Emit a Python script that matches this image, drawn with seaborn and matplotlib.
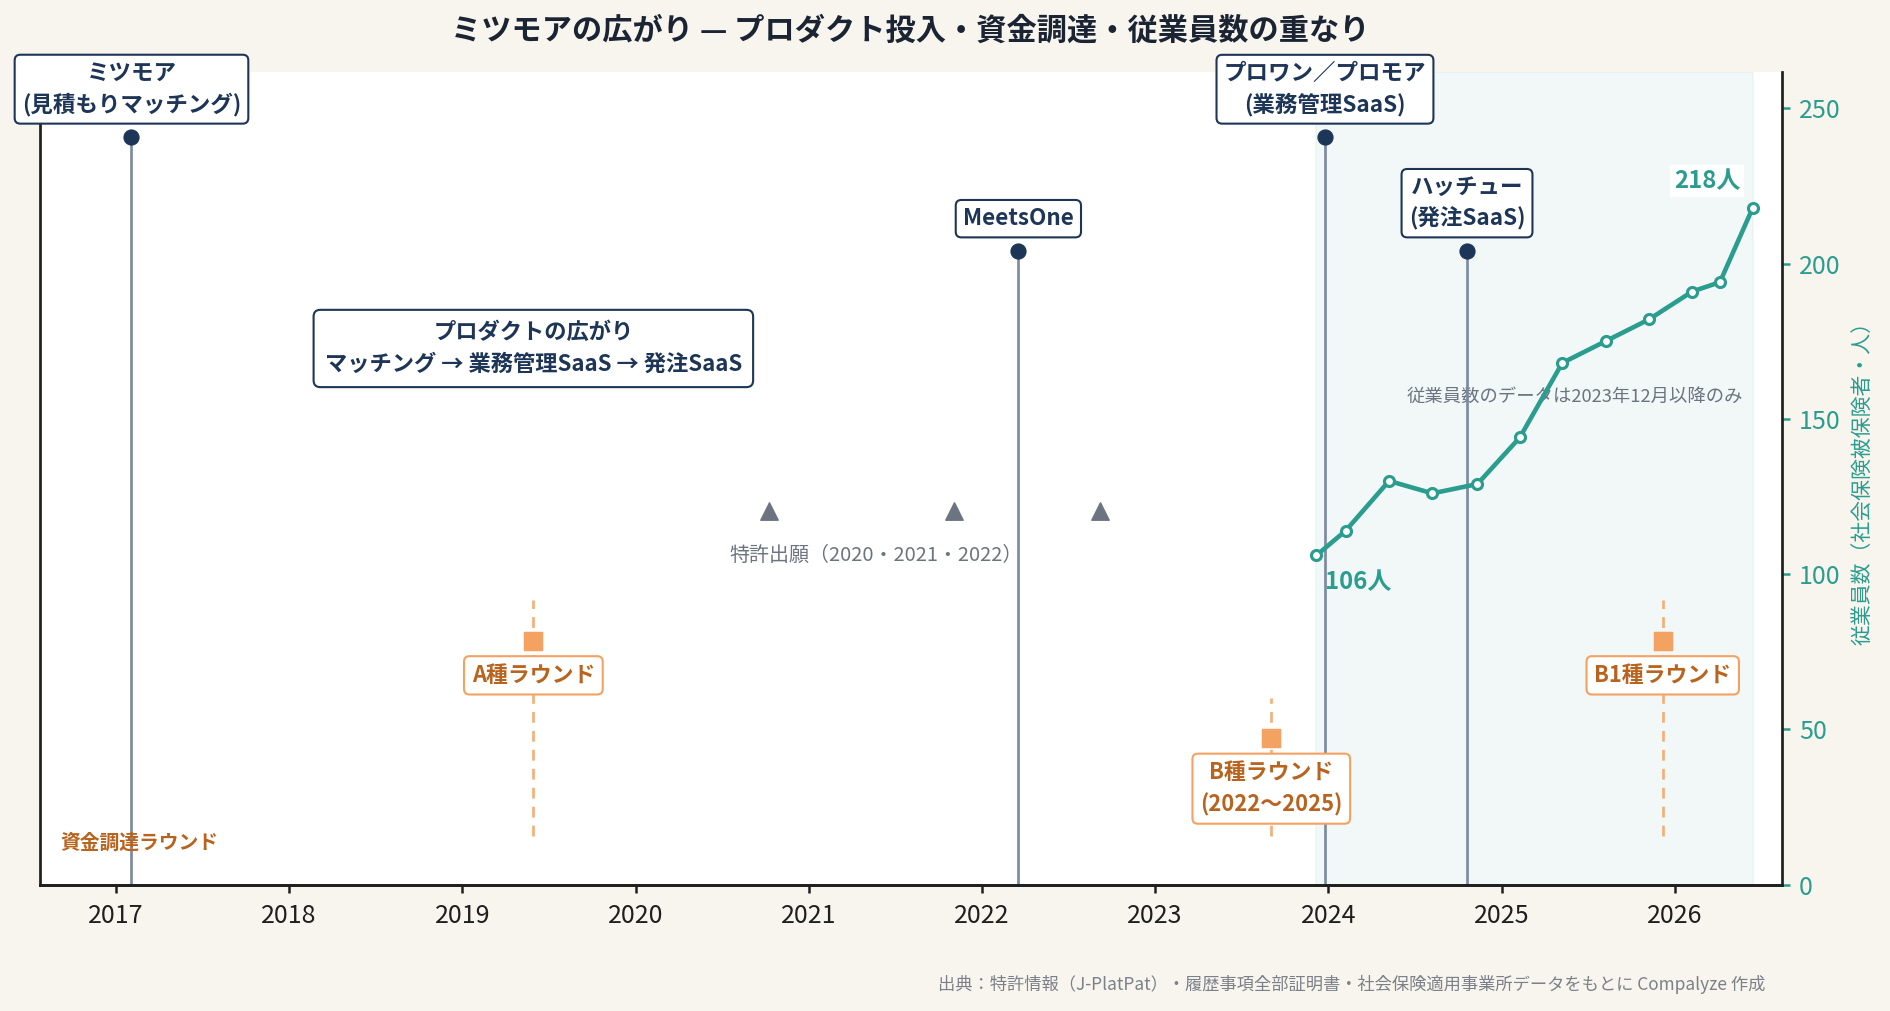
import matplotlib
matplotlib.use("Agg")
import matplotlib.pyplot as plt
import seaborn as sns

NAVY = "#1d3557"
STEM = "#7d8ba0"
TEAL = "#2a9d8f"
ORANGE = "#f4a261"
ORANGE_TEXT = "#b8641e"
GRAY = "#6b7480"
BG = "#f8f5ee"
INK = "#1a2433"

# product launches (decimal years) and their row height on the event axis
product_names = ["ミツモア\n(見積もりマッチング)", "MeetsOne", "プロワン／プロモア\n(業務管理SaaS)", "ハッチュー\n(発注SaaS)"]
product_x = [2017.09, 2022.21, 2023.98, 2024.80]
product_level = [0.92, 0.78, 0.92, 0.78]

patent_x = [2020.77, 2021.84, 2022.68]
patent_level = [0.46, 0.46, 0.46]

round_names = ["A種ラウンド", "B種ラウンド\n(2022〜2025)", "B1種ラウンド"]
round_x = [2019.41, 2023.67, 2025.93]
round_level = [0.30, 0.18, 0.30]

# employees (social insurance insured persons)
emp_x = [2023.93, 2024.10, 2024.35, 2024.60, 2024.86, 2025.105, 2025.35, 2025.60, 2025.85, 2026.10, 2026.26, 2026.45]
emp_n = [106, 114, 130, 126, 129, 144, 168, 175, 182, 191, 194, 218]

year_ticks = list(range(2017, 2027))
emp_ticks = [0, 50, 100, 150, 200, 250]

sns.set_theme(
    style="white",
    rc={
        "figure.facecolor": BG,
        "savefig.facecolor": BG,
        "axes.facecolor": "white",
        "axes.edgecolor": "#1f1f1f",
        "axes.linewidth": 1.3,
    },
)
plt.rcParams["font.family"] = ["Noto Sans CJK JP", "DejaVu Sans"]

fig = plt.figure(figsize=(12.6, 6.74), dpi=150)
ax = fig.add_axes([0.021, 0.125, 0.922, 0.8035])
ax2 = ax.twinx()

ax.set_xlim(2016.56, 2026.62)
ax.set_ylim(0, 1)
ax2.set_ylim(0, max(emp_n) * 1.2)

# employee data window
ax.axvspan(emp_x[0], emp_x[-1], facecolor="#e6f2f1", edgecolor="#dcefee", alpha=0.5, lw=0.8, zorder=0)

# product stems + dots
ax.vlines(product_x, 0, product_level, color=STEM, lw=1.3, zorder=2)
sns.scatterplot(x=product_x, y=product_level, ax=ax, color=NAVY, s=52, edgecolor=NAVY, zorder=4, legend=False)
for name, x, lvl in zip(product_names, product_x, product_level):
    ax.annotate(name, (x, lvl), xytext=(0, 10), textcoords="offset points", ha="center", va="bottom",
                fontsize=10.8, fontweight="bold", color=NAVY, linespacing=1.4, annotation_clip=False, zorder=6,
                bbox=dict(boxstyle="round,pad=0.32,rounding_size=0.25", fc="white", ec=NAVY, lw=1.0))

# patents
sns.scatterplot(x=patent_x, y=patent_level, ax=ax, color=GRAY, marker="^", s=70, edgecolor=GRAY, zorder=4, legend=False)
ax.text(2021.39, 0.405, "特許出願（2020・2021・2022）", ha="center", va="center", fontsize=9.6, color=GRAY, zorder=3)

# funding rounds
for x, lvl in zip(round_x, round_level):
    ax.vlines(x, 0.06, lvl + 0.05, color=ORANGE, lw=1.3, linestyles=(0, (4, 3)), alpha=0.85, zorder=2)
sns.scatterplot(x=round_x, y=round_level, ax=ax, color=ORANGE, marker="s", s=80, edgecolor=ORANGE, zorder=4, legend=False)
for name, x, lvl in zip(round_names, round_x, round_level):
    ax.annotate(name, (x, lvl), xytext=(0, -11), textcoords="offset points", ha="center", va="top",
                fontsize=10.5, fontweight="bold", color=ORANGE_TEXT, linespacing=1.45, zorder=6,
                bbox=dict(boxstyle="round,pad=0.35,rounding_size=0.25", fc="white", ec=ORANGE, lw=1.0))
ax.text(0.012, 0.052, "資金調達ラウンド", transform=ax.transAxes, ha="left", va="center",
        fontsize=9.5, fontweight="bold", color=ORANGE_TEXT)

# product summary box
ax.text(2019.41, 0.66, "プロダクトの広がり\nマッチング → 業務管理SaaS → 発注SaaS", ha="center", va="center",
        fontsize=10.7, fontweight="bold", color=NAVY, linespacing=1.5, zorder=6,
        bbox=dict(boxstyle="round,pad=0.5,rounding_size=0.3", fc="white", ec=NAVY, lw=1.0))

ax.text(2025.42, 0.60, "従業員数のデータは2023年12月以降のみ", ha="center", va="center",
        fontsize=8.8, color=GRAY, zorder=1)

# employee line
sns.lineplot(x=emp_x, y=emp_n, ax=ax2, color=TEAL, lw=2.2, marker="o", markersize=4.8,
             markerfacecolor="white", markeredgecolor=TEAL, markeredgewidth=1.5, zorder=5)
ax2.annotate(f"{emp_n[0]}人", (emp_x[0], emp_n[0]), xytext=(4, -7), textcoords="offset points",
             ha="left", va="top", fontsize=11.5, fontweight="bold", color=TEAL)
ax2.annotate(f"{emp_n[-1]}人", (emp_x[-1], emp_n[-1]), xytext=(-6, 7), textcoords="offset points",
             ha="right", va="bottom", fontsize=11.5, fontweight="bold", color=TEAL,
             bbox=dict(boxstyle="square,pad=0.15", fc="white", ec="none"))

# axes styling
ax.set_xticks(year_ticks)
ax.set_xticklabels([str(y) for y in year_ticks])
ax.set_yticks([])
ax.tick_params(axis="x", bottom=True, length=4, width=1.2, color="#1f1f1f", labelsize=12, labelcolor="#1f1f1f", pad=5)
ax.spines["top"].set_visible(False)
ax.spines["right"].set_visible(False)
ax2.spines["top"].set_visible(False)
ax2.spines["left"].set_visible(False)
ax2.set_yticks(emp_ticks)
ax2.tick_params(axis="y", right=True, length=4, width=1.2, color=TEAL, labelsize=12, labelcolor=TEAL, pad=4)
ax2.set_ylabel("従業員数（社会保険被保険者・人）", color=TEAL, fontsize=10, labelpad=5)
ax2.grid(False)
ax.grid(False)

fig.text(0.4815, 0.970, "ミツモアの広がり — プロダクト投入・資金調達・従業員数の重なり", ha="center", va="center",
         fontsize=14.5, fontweight="bold", color=INK)
fig.text(0.934, 0.026, "出典：特許情報（J-PlatPat）・履歴事項全部証明書・社会保険適用事業所データをもとに Compalyze 作成",
         ha="right", va="center", fontsize=8.3, color="#7b8089")

fig.savefig("out.png", dpi=150)
